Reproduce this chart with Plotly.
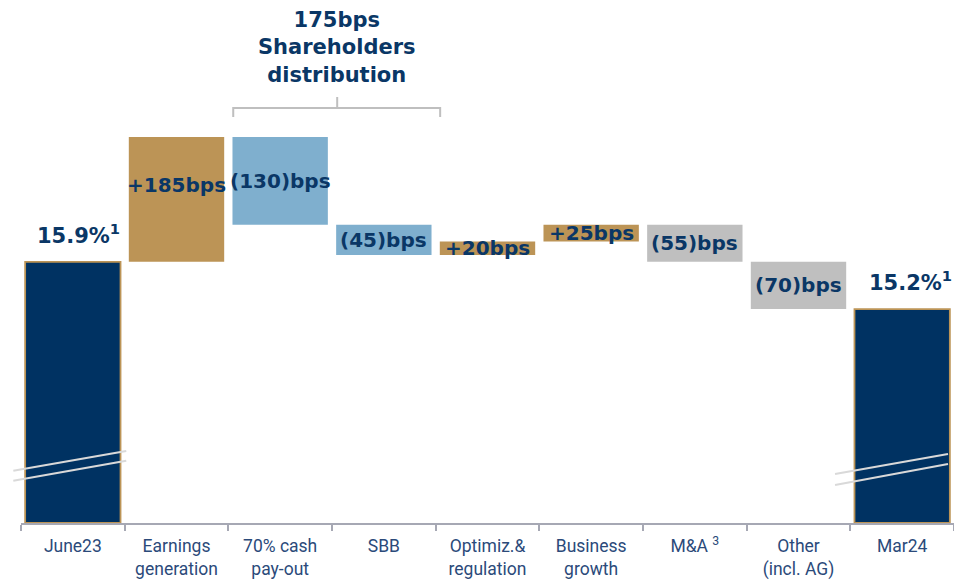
import plotly.graph_objects as go

# ---- data ----
categories = ["June23", "Earnings<br>generation", "70% cash<br>pay-out", "SBB",
              "Optimiz.&<br>regulation", "Business<br>growth", "M&A <sup>3</sup>",
              "Other<br>(incl. AG)", "Mar24"]
start_value = 15.9          # %
end_value = 15.2            # %
deltas_bps = [185, -130, -45, 20, 25, -55, -70]
delta_labels = ["+185bps", "(130)bps", "(45)bps", "+20bps", "+25bps", "(55)bps", "(70)bps"]
total_labels = ["15.9%<sup>1</sup>", "15.2%<sup>1</sup>"]
group_label = "175bps<br>Shareholders<br>distribution"

# ---- style ----
NAVY = "#003262"
GOLD = "#BC9456"
BLUE = "#7FAFCE"
GREY = "#BFBFBF"
TEXT = "#0A3766"
bar_colors = [NAVY, GOLD, BLUE, BLUE, GOLD, GOLD, GREY, GREY, NAVY]
y_min, y_max = 12.03, 19.78
label_yshift = [14, 0, 0, 0, 0, 0, 0]

# ---- compute waterfall ----
bases, heights = [], []
bases.append(y_min)
heights.append(start_value - y_min)
level = start_value
mids = []
for d in deltas_bps:
    dv = d / 100.0
    new = level + dv
    lo = min(level, new)
    bases.append(lo)
    heights.append(abs(dv))
    mids.append(lo + abs(dv) / 2)
    level = new
bases.append(y_min)
heights.append(end_value - y_min)

line_w = [1.8 if c == NAVY else 0 for c in bar_colors]

fig = go.Figure()
fig.add_trace(go.Bar(
    x=categories, y=heights, base=bases, width=0.92,
    marker=dict(color=bar_colors, line=dict(color=GOLD, width=line_w)),
    hoverinfo="skip", showlegend=False,
))

BOLD = "DejaVu Sans"
annotations = []
for i, (lab, m) in enumerate(zip(delta_labels, mids)):
    annotations.append(dict(x=categories[i + 1], y=m, text=lab, showarrow=False,
                            yshift=label_yshift[i],
                            font=dict(family=BOLD, size=20, color=TEXT, weight="bold")))
for cat, val, lab, xs in [(categories[0], start_value, total_labels[0], 6),
                          (categories[-1], end_value, total_labels[1], 8)]:
    annotations.append(dict(x=cat, y=val, text=lab, showarrow=False, yanchor="bottom",
                            xshift=xs, yshift=12,
                            font=dict(family=BOLD, size=21, color=TEXT, weight="bold")))

FIG_W, FIG_H = 954, 580
L, T = 20.7, 0
PW = FIG_W - L
PH = 523
def px(sx):
    return (sx - L) / PW
def py(sy):
    return 1 - (sy - T) / PH

annotations.append(dict(x=px(337), xref="paper", y=py(6), yref="paper", yanchor="top",
                        text=group_label, showarrow=False, align="center",
                        font=dict(family=BOLD, size=21, color=TEXT, weight="bold")))

shapes = []
bc = dict(color=GREY, width=2)
shapes.append(dict(type="path", xref="paper", yref="paper",
                   path=f"M {px(233)},{py(117)} L {px(233)},{py(108)} L {px(440)},{py(108)} L {px(440)},{py(117)}",
                   line=bc))
shapes.append(dict(type="line", xref="paper", yref="paper", x0=px(337), x1=px(337),
                   y0=py(108), y1=py(97), line=bc))
for (x0, y0, x1, y1) in [(13, 470.7, 126, 451), (13, 480.7, 126, 460.7),
                         (835, 474, 948, 454), (835, 485, 948, 464)]:
    shapes.append(dict(type="line", xref="paper", yref="paper", x0=px(x0), y0=py(y0),
                       x1=px(x1), y1=py(y1), line=dict(color="#D9D9D9", width=2)))

fig.update_layout(
    width=FIG_W, height=FIG_H,
    margin=dict(l=L, r=0, t=T, b=FIG_H - T - PH, pad=0),
    plot_bgcolor="white", paper_bgcolor="white",
    bargap=0.09,
    annotations=annotations, shapes=shapes,
    xaxis=dict(type="category", showgrid=False, showline=True, linecolor="#A6A8B4", linewidth=2,
               ticks="outside", tickson="boundaries", ticklen=6, tickcolor="#A6A8B4", tickwidth=1.5,
               ticklabelstandoff=6,
               tickfont=dict(family="Roboto", size=17.5, color="#2B4A7A"),
               fixedrange=True),
    yaxis=dict(range=[y_min, y_max], visible=False, fixedrange=True),
)

fig.write_html("out.html", config={"displayModeBar": False},
               post_script="document.body.style.margin='0';document.body.style.overflow='hidden';")
